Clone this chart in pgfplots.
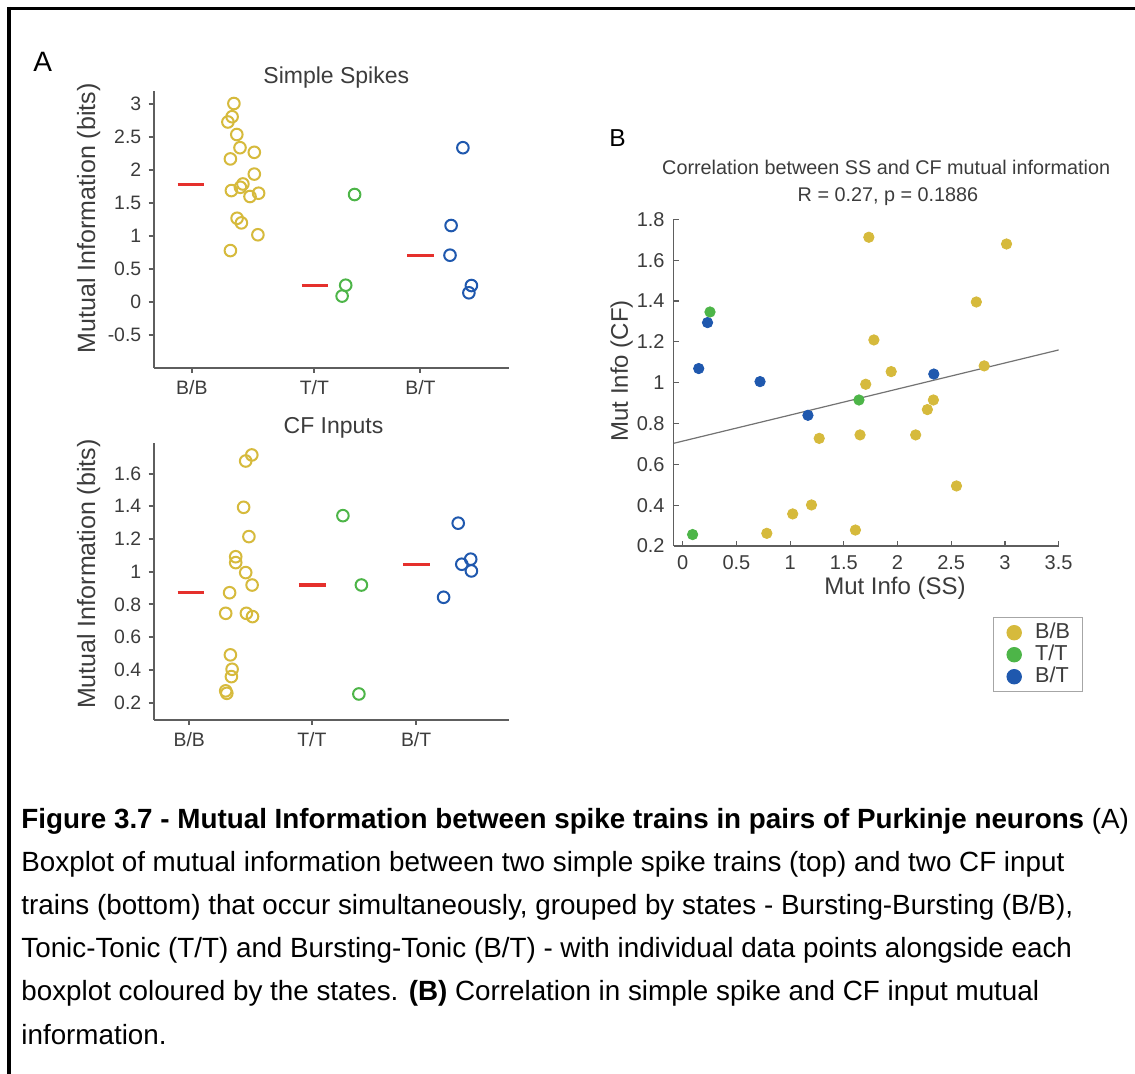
\documentclass[border=0pt]{standalone}
\usepackage{fontspec}
\setmainfont{Liberation Sans}
\usepackage{pgfplots}
\pgfplotsset{compat=1.18}
\definecolor{yc}{HTML}{D6BA3C}
\definecolor{gc}{HTML}{4DB548}
\definecolor{bc}{HTML}{1F58AE}
\definecolor{rc}{HTML}{E5302C}
\definecolor{ag}{HTML}{5E5E5E}
\definecolor{tg}{HTML}{3C3C3C}
\newcommand{\fs}[1]{\fontsize{#1}{#1}\selectfont}
\pgfplotsset{
 panelA/.style={
  scale only axis, width=177.65pt, anchor=south west,
  axis x line=bottom, axis y line=left,
  axis line style={-, draw=ag, line width=1pt},
  every tick/.style={draw=ag, line width=1pt},
  tick align=outside, major tick length=2.5pt,
  xmin=153.6, xmax=508.9,
  tick label style={font=\fs{9.7}, text=tg, inner sep=0pt},
  yticklabel style={xshift=-3.5pt},
  xticklabel style={yshift=-3.5pt},
  /pgf/number format/assume math mode=true,
  clip=false,
 },
 ocirc/.style={only marks, mark=o, mark size=2.9pt, mark options={line width=1pt, draw=#1}},
 med/.style={rc, line width=1.7pt},
}
\pgfplotstableread{
x y
233.9 3.01
232.1 2.81
227.9 2.73
236.8 2.54
240.0 2.34
254.3 2.27
230.4 2.17
254.3 1.94
242.9 1.79
240.4 1.74
231.4 1.69
258.6 1.65
250.0 1.60
237.1 1.27
241.4 1.20
257.9 1.02
230.4 0.78
}\ssBB
\pgfplotstableread{
x y
354.6 1.63
345.7 0.255
342.1 0.09
}\ssTT
\pgfplotstableread{
x y
462.9 2.34
451.1 1.16
450.0 0.71
471.4 0.25
468.9 0.14
}\ssBT
\pgfplotstableread{
x y
251.8 1.714
245.7 1.677
243.6 1.394
248.9 1.215
235.7 1.092
235.7 1.056
245.7 0.995
252.1 0.919
229.6 0.872
225.7 0.746
246.4 0.746
252.5 0.726
230.4 0.492
232.1 0.404
231.4 0.359
225.7 0.272
226.8 0.257
}\cfBB
\pgfplotstableread{
x y
342.9 1.343
361.4 0.919
358.9 0.253
}\cfTT
\pgfplotstableread{
x y
458.2 1.297
470.7 1.077
461.8 1.046
471.4 1.005
443.6 0.844
}\cfBT
\pgfplotstableread{
ss cf
1.733 1.712
3.015 1.679
2.734 1.395
1.780 1.209
2.807 1.082
1.941 1.054
1.704 0.992
2.334 0.915
2.278 0.868
1.271 0.727
1.651 0.744
2.169 0.744
2.549 0.494
1.199 0.401
1.024 0.357
0.783 0.262
1.608 0.278
}\scBB
\pgfplotstableread{
ss cf
0.254 1.346
1.641 0.915
0.092 0.256
}\scTT
\pgfplotstableread{
ss cf
0.231 1.294
0.149 1.069
0.720 1.005
1.166 0.840
2.338 1.042
}\scBT
\begin{document}
\begin{tikzpicture}
\useasboundingbox (0pt,0pt) rectangle (567.5pt,537pt);
\fill[white] (0pt,0pt) rectangle (567.5pt,537pt);

% Panel A top
\begin{axis}[panelA, at={(76.8pt,353pt)}, height=138.5pt,
  ymin=-1, ymax=3.2, ytick={-0.5,0,0.5,1,1.5,2,2.5,3},
  xtick={191.8,314.3,420.4}, xticklabels={B/B,T/T,B/T}]
\addplot[med] coordinates {(177.5,1.783) (204.3,1.783)};
\addplot[med] coordinates {(301.8,0.255) (327.5,0.255)};
\addplot[med] coordinates {(407.1,0.71) (433.9,0.71)};
\addplot[ocirc=yc] table[x=x,y=y] {\ssBB};
\addplot[ocirc=gc] table[x=x,y=y] {\ssTT};
\addplot[ocirc=bc] table[x=x,y=y] {\ssBT};
\end{axis}

% Panel A bottom
\begin{axis}[panelA, at={(76.8pt,177pt)}, height=138.65pt,
  ymin=0.094, ymax=1.789, ytick={0.2,0.4,0.6,0.8,1,1.2,1.4,1.6},
  xtick={189.3,311.8,416.1}, xticklabels={B/B,T/T,B/T}]
\addplot[med] coordinates {(177.5,0.872) (203.6,0.872)};
\addplot[med] coordinates {(298.9,0.919) (325.7,0.919)};
\addplot[med] coordinates {(402.9,1.046) (429.6,1.046)};
\addplot[ocirc=yc] table[x=x,y=y] {\cfBB};
\addplot[ocirc=gc] table[x=x,y=y] {\cfTT};
\addplot[ocirc=bc] table[x=x,y=y] {\cfBT};
\end{axis}

% Panel B
\begin{axis}[scale only axis, width=192.4pt, height=163.35pt, anchor=south west,
  at={(336.9pt,264pt)},
  axis x line=bottom, axis y line=left,
  axis line style={-, draw=ag, line width=0.6pt},
  every tick/.style={draw=ag, line width=0.6pt},
  tick align=inside, major tick length=2.5pt,
  xmin=-0.083, xmax=3.5, ymin=0.2, ymax=1.8,
  xtick={0,0.5,1,1.5,2,2.5,3,3.5},
  ytick={0.2,0.4,0.6,0.8,1,1.2,1.4,1.6,1.8},
  tick label style={font=\fs{10}, text=tg, inner sep=0pt},
  yticklabel style={xshift=-4.4pt},
  xticklabel style={yshift=-4.5pt},
  /pgf/number format/assume math mode=true,
  clip=false,
  legend image code/.code={\path (0pt,0pt) (14pt,0pt); \draw[#1, mark size=3.6pt] plot coordinates {(7pt,0pt)};},
  legend style={at={(0.830,-0.218)}, anchor=north west, draw=gray!70, line width=0.5pt,
    fill=white, inner xsep=3pt, inner ysep=2pt, row sep=0pt,
    font=\fs{10.8}, text=tg,
    nodes={inner xsep=3.2pt, inner ysep=0.6pt, text height=7.6pt, text depth=2.2pt}},
  legend cell align=left]
\addplot[only marks, mark=*, mark size=2.6pt, mark options={draw=yc, fill=yc}] table[x=ss,y=cf] {\scBB};
\addplot[only marks, mark=*, mark size=2.6pt, mark options={draw=gc, fill=gc}] table[x=ss,y=cf] {\scTT};
\addplot[only marks, mark=*, mark size=2.6pt, mark options={draw=bc, fill=bc}] table[x=ss,y=cf] {\scBT};
\addplot[forget plot, draw=gray!90!black, line width=0.6pt] coordinates {(-0.083,0.703) (3.5,1.16)};
\legend{B/B,T/T,B/T}
\end{axis}

\begin{scope}[x=0.5pt, y=-0.5pt, shift={(0pt,537pt)}]
\draw[line width=1.7pt] (7,8.5) -- (1135,8.5);
\draw[line width=1.7pt] (9,7) -- (9,1074);
% Texts
\node[anchor=base west, font=\fs{14}, inner sep=0pt] at (33,71.7) {A};
\node[anchor=base west, font=\fs{12.25}, inner sep=0pt] at (609,147) {B};
\node[anchor=base, font=\fs{11.5}, text=tg, inner sep=0pt] at (336.3,83.3) {Simple Spikes};
\node[anchor=base, font=\fs{11.5}, text=tg, inner sep=0pt] at (333.5,433.3) {CF Inputs};
\node[rotate=90, anchor=base, font=\fs{12.5}, text=tg, inner sep=0pt] at (95,218.3) {Mutual Information (bits)};
\node[rotate=90, anchor=base, font=\fs{12.5}, text=tg, inner sep=0pt] at (95,574.2) {Mutual Information (bits)};
\node[anchor=base, font=\fs{9.9}, text=tg, inner sep=0pt] at (886.2,175) {Correlation between SS and CF mutual information};
\node[anchor=base, font=\fs{9.9}, text=tg, inner sep=0pt] at (888,201.7) {R = 0.27, p = 0.1886};
\node[rotate=90, anchor=base, font=\fs{12}, text=tg, inner sep=0pt] at (627.8,370.8) {Mut Info (CF)};
\node[anchor=base, font=\fs{12}, text=tg, inner sep=0pt] at (895,595) {Mut Info (SS)};
% Caption
\begin{scope}[every node/.style={anchor=base west, font=\fs{13.9}, inner sep=0pt}]
\node at (21,828.5) {\textbf{Figure 3.7 - Mutual Information between spike trains in pairs of Purkinje neurons} (A)};
\node at (21,871.5) {Boxplot of mutual information between two simple spike trains (top) and two CF input};
\node at (21,914.5) {trains (bottom) that occur simultaneously, grouped by states - Bursting-Bursting (B/B),};
\node at (21,957.5) {Tonic-Tonic (T/T) and Bursting-Tonic (B/T) - with individual data points alongside each};
\node at (21,1000.5) {boxplot coloured by the states. \textbf{(B)} Correlation in simple spike and CF input mutual};
\node at (21,1044.5) {information.};
\end{scope}
\end{scope}
\end{tikzpicture}
\end{document}
